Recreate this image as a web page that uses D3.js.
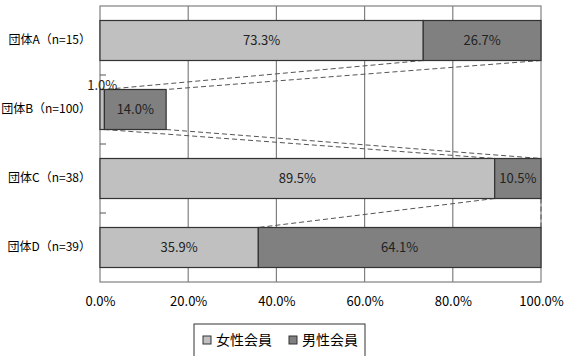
<!DOCTYPE html>
<html>
<head>
<meta charset="utf-8">
<script src="https://cdn.jsdelivr.net/npm/d3@7"></script>
<style>
  body { margin: 0; background: #fff; }
  text { font-family: "Noto Sans CJK JP", sans-serif; }
</style>
</head>
<body>
<div class="canvas"></div>
<script>
const categories = ['団体A（n=15）', '団体B（n=100）', '団体C（n=38）', '団体D（n=39）'];
const female = [73.3, 1.0, 89.5, 35.9];
const male = [26.7, 14.0, 10.5, 64.1];
const seriesNames = ['女性会員', '男性会員'];
const ticks = [0, 20, 40, 60, 80, 100];

const colors = ['#c0c0c0', '#808080'];

const svg = d3.select('.canvas')
    .append('svg')
    .attr('width', 564)
    .attr('height', 356)

const margin = { top: 6, right: 23, bottom: 74, left: 100 };
const graphWidth = 564 - margin.left - margin.right;
const graphHeight = 356 - margin.top - margin.bottom;

const graph = svg.append('g')
    .attr('transform', `translate(${margin.left}, ${margin.top})`)

const x = d3.scaleLinear()
    .domain([0, 100])
    .range([0, graphWidth]);

const y = d3.scaleBand()
    .domain(categories)
    .range([0, graphHeight])
    .paddingInner(0.42)
    .paddingOuter(0.21);

const data = categories.map((c, i) => ({
    name: c,
    parts: [
        { s: 0, x0: 0, x1: female[i], v: female[i] },
        { s: 1, x0: female[i], x1: female[i] + male[i], v: male[i] }
    ]
}));

// grid
graph.selectAll('line.grid')
    .data(ticks.slice(1, -1))
    .enter().append('line')
    .attr('x1', d => x(d)).attr('x2', d => x(d))
    .attr('y1', 0).attr('y2', graphHeight)
    .attr('stroke', '#808080')
    .attr('stroke-width', 1.2);

// frame
graph.append('rect')
    .attr('width', graphWidth).attr('height', graphHeight)
    .attr('fill', 'none')
    .attr('stroke', '#808080')
    .attr('stroke-width', 1.2);

// category ticks
graph.selectAll('line.ctick')
    .data(d3.range(1, categories.length))
    .enter().append('line')
    .attr('x1', 0).attr('x2', 6)
    .attr('y1', d => d * graphHeight / categories.length)
    .attr('y2', d => d * graphHeight / categories.length)
    .attr('stroke', '#555');

// series lines (dashed)
const ends = [female, female.map((f, i) => f + male[i])];
ends.forEach(arr => {
    for (let i = 0; i < categories.length - 1; i++) {
        graph.append('line')
            .attr('x1', x(arr[i]))
            .attr('y1', y(categories[i]) + y.bandwidth())
            .attr('x2', x(arr[i + 1]))
            .attr('y2', y(categories[i + 1]))
            .attr('stroke', '#555')
            .attr('stroke-width', 1)
            .attr('stroke-dasharray', '5,3');
    }
});

// bars
const groups = graph.selectAll('g.bar')
    .data(data)
    .enter().append('g')
    .attr('transform', d => `translate(0, ${y(d.name)})`);

groups.selectAll('rect')
    .data(d => d.parts)
    .enter().append('rect')
    .attr('x', d => x(d.x0))
    .attr('width', d => x(d.x1) - x(d.x0))
    .attr('height', y.bandwidth())
    .attr('fill', d => colors[d.s])
    .attr('stroke', '#333')
    .attr('stroke-width', 1.2);

groups.selectAll('text')
    .data(d => d.parts)
    .enter().append('text')
    .attr('x', d => x((d.x0 + d.x1) / 2))
    .attr('y', d => d.v < 5 ? 1 : y.bandwidth() / 2 + 5)
    .attr('text-anchor', 'middle')
    .attr('font-size', '13px')
    .attr('fill', '#222')
    .text(d => d.v.toFixed(1) + '%');

// axes
const yAxisGroup = graph.append('g');
yAxisGroup.call(d3.axisLeft(y).tickSize(0).tickPadding(9));
yAxisGroup.select('.domain').remove();
yAxisGroup.selectAll('text')
    .attr('font-size', '12px')
    .attr('fill', '#000');

const xAxisGroup = graph.append('g')
    .attr('transform', `translate(0, ${graphHeight})`);
xAxisGroup.call(d3.axisBottom(x).tickValues(ticks).tickSize(0).tickPadding(15)
    .tickFormat(d => d.toFixed(1) + '%'));
xAxisGroup.select('.domain').remove();
xAxisGroup.selectAll('text')
    .attr('font-size', '13px')
    .attr('fill', '#000');

// legend
const legend = svg.append('g').attr('transform', 'translate(194, 324)');
legend.append('rect')
    .attr('width', 171).attr('height', 34)
    .attr('fill', '#fff')
    .attr('stroke', '#333');
const items = legend.selectAll('g.item')
    .data(seriesNames)
    .enter().append('g')
    .attr('transform', (d, i) => `translate(${9 + i * 86}, 16)`);
items.append('rect')
    .attr('x', 0).attr('y', -4)
    .attr('width', 8).attr('height', 8)
    .attr('fill', (d, i) => colors[i])
    .attr('stroke', '#333');
items.append('text')
    .attr('x', 13).attr('y', 5)
    .attr('font-size', '14px')
    .text(d => d);
</script>
</body>
</html>
